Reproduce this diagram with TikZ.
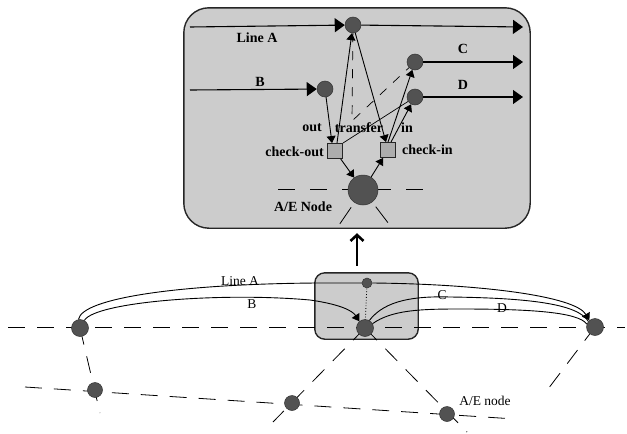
\documentclass[tikz,border=0pt]{standalone}
\usepackage{fontspec}
\setmainfont{Liberation Serif}
\usetikzlibrary{arrows.meta}
\pgfdeclarelayer{bg}
\pgfsetlayers{bg,main}
\begin{document}
\begin{tikzpicture}[x=1pt,y=-1pt,
  dot/.style={circle,fill=black!68,draw=black!80,line width=0.5pt,inner sep=0pt,minimum size=#1},
  dot/.default=16pt,
  panel/.style={draw=black!85,line width=1.4pt,fill=black!20,rounded corners=#1},
  holder/.style={rectangle,inner sep=0pt},
  chk/.style={rectangle,draw=black!85,line width=0.9pt,fill=black!32,minimum size=15pt,inner sep=0pt},
  flow/.style={line width=1.1pt,-{Triangle[length=10pt,width=14pt]}},
  tip/.style={-{Triangle[length=7pt,width=9pt]}},
  net/.style={dash pattern=on 17pt off 12pt,line width=0.8pt},
  ray/.style={line width=0.8pt,dash pattern=on 0pt off 21pt on 20pt off 40pt},
  lbl/.style={font=\fontsize{14}{14}\selectfont\bfseries,inner sep=0pt},
  blbl/.style={font=\fontsize{13.5}{14}\selectfont,inner sep=0pt},
  route/.style={line width=0.9pt}
]
\useasboundingbox (0,0) rectangle (627,434);

% ---------- boxes (outlines drawn on the background layer) ----------
\node[holder,minimum width=346pt,minimum height=220pt] (tbox) at (357,118) {};
\node[holder,minimum width=103pt,minimum height=66pt] (sbox) at (366.5,306) {};

% ---------- top panel nodes ----------
\node[dot] (la) at (353,25) {};
\node[dot] (b) at (325,89) {};
\node[dot] (c) at (415,62) {};
\node[dot] (d) at (415,97) {};
\node[chk] (co) at (335,151) {};
\node[chk] (ci) at (388,150) {};
\node[dot=30pt] (ae) at (363,190) {};

\coordinate (wa) at (190,27);
\coordinate (ea) at (523,27);
\coordinate (wb) at (190,90);
\coordinate (ec) at (523,62);
\coordinate (ed) at (523,97);
\coordinate (tr) at (352,121);
\coordinate (hw) at (278,189);
\coordinate (he) at (430,189);
\coordinate (sl) at (337,228);
\coordinate (sr) at (392,228);

\begin{pgfonlayer}{bg}
  \path[panel=25pt] (tbox.north west) rectangle (tbox.south east);
  \draw[dash pattern=on 17pt off 15pt,line width=0.8pt] (hw) -- (he);
  \draw[ray] (ae.center) -- (sl);
  \draw[ray] (ae.center) -- (sr);
\end{pgfonlayer}

\draw[flow] (wa) -- (la);
\draw[flow] (la) -- (ea);
\draw[flow] (wb) -- (b);
\draw[flow] (c) -- (ec);
\draw[flow] (d) -- (ed);

\draw[route,tip] (b) -- ([xshift=-3pt]co.north);
\draw[route,tip] ([xshift=2pt]co.north) -- (la);
\draw[route,tip] (la) -- ([xshift=-2pt]ci.north);
\draw[route,tip] (ci.north) -- (c);
\draw[route,tip] ([xshift=3pt]ci.north) -- (d);
\draw[route,tip] (co) -- (ae);
\draw[route,tip] (ae) -- (ci);
\draw[line width=0.7pt,dash pattern=on 9pt off 9pt] (la) -- (tr) -- (c);
\draw[line width=0.7pt] (co.north east) -- (d);

\node[lbl] at (257,38) {Line A};
\node[lbl] at (260,82) {B};
\node[lbl] at (463,49) {C};
\node[lbl] at (463,85) {D};
\node[lbl] at (312,128) {out};
\node[lbl] at (359,128) {transfer};
\node[lbl] at (407,128) {in};
\node[lbl,anchor=east] at (324,152) {check-out};
\node[lbl,anchor=west] at (402,150) {check-in};
\node[lbl] at (303,207) {A/E Node};

% ---------- bottom network ----------
\node[dot=17pt] (ln) at (80,328) {};
\node[dot=17pt] (bn) at (365,328) {};
\node[dot=17pt] (rn) at (595,327) {};
\node[dot=10pt] (tn) at (367,283) {};
\node[dot=15pt] (n1) at (95,390) {};
\node[dot=15pt] (n2) at (292,403) {};
\node[dot=15pt] (n3) at (447,414) {};

\coordinate (hl) at (8,327);
\coordinate (hr) at (625,327);
\coordinate (v1) at (100,413);
\coordinate (d1) at (25,387);
\coordinate (d2) at (515,419);
\coordinate (d3) at (273,422);
\coordinate (d4) at (467,432);
\coordinate (d5) at (545,393);

\begin{pgfonlayer}{bg}
  \path[panel=10pt] (sbox.north west) rectangle (sbox.south east);
  \draw[net] (hl) -- (hr);
  \draw[net] (ln.center) -- (v1);
  \draw[net] (d1) -- (d2);
  \draw[net] (bn.center) -- (d3);
  \draw[net] (bn.center) -- (d4);
  \draw[net] (rn.center) -- (d5);
  \draw[line width=0.8pt,dotted] (tn.center) -- (bn.center);
\end{pgfonlayer}

\draw[line width=2.6pt,-{Straight Barb[length=6pt,width=13pt]},shorten <=7pt,shorten >=5pt] (sbox.north -| tbox.south) -- (tbox.south);

% routes
\draw[route] (ln.100) .. controls (82,298) and (180,284) .. (317,283) -- (tn.west);
\draw[route,tip] (tn.east) .. controls (480,284) and (575,296) .. (rn.130);
\draw[route,tip] (ln.60) .. controls (95,302) and (220,292) .. (310,300) .. controls (338,304) and (352,310) .. (bn.130);
\draw[route] (bn.60) .. controls (385,300) and (415,296) .. (450,297) .. controls (530,298) and (578,304) .. (rn.140);
\draw[route] (bn.30) .. controls (392,310) and (420,309) .. (460,309) .. controls (530,309) and (578,312) .. (rn.160);

\node[blbl] at (240,281) {Line A};
\node[blbl] at (252,304) {B};
\node[blbl] at (442,295) {C};
\node[blbl] at (502,308) {D};
\node[blbl] at (485,401) {A/E node};
\end{tikzpicture}
\end{document}
